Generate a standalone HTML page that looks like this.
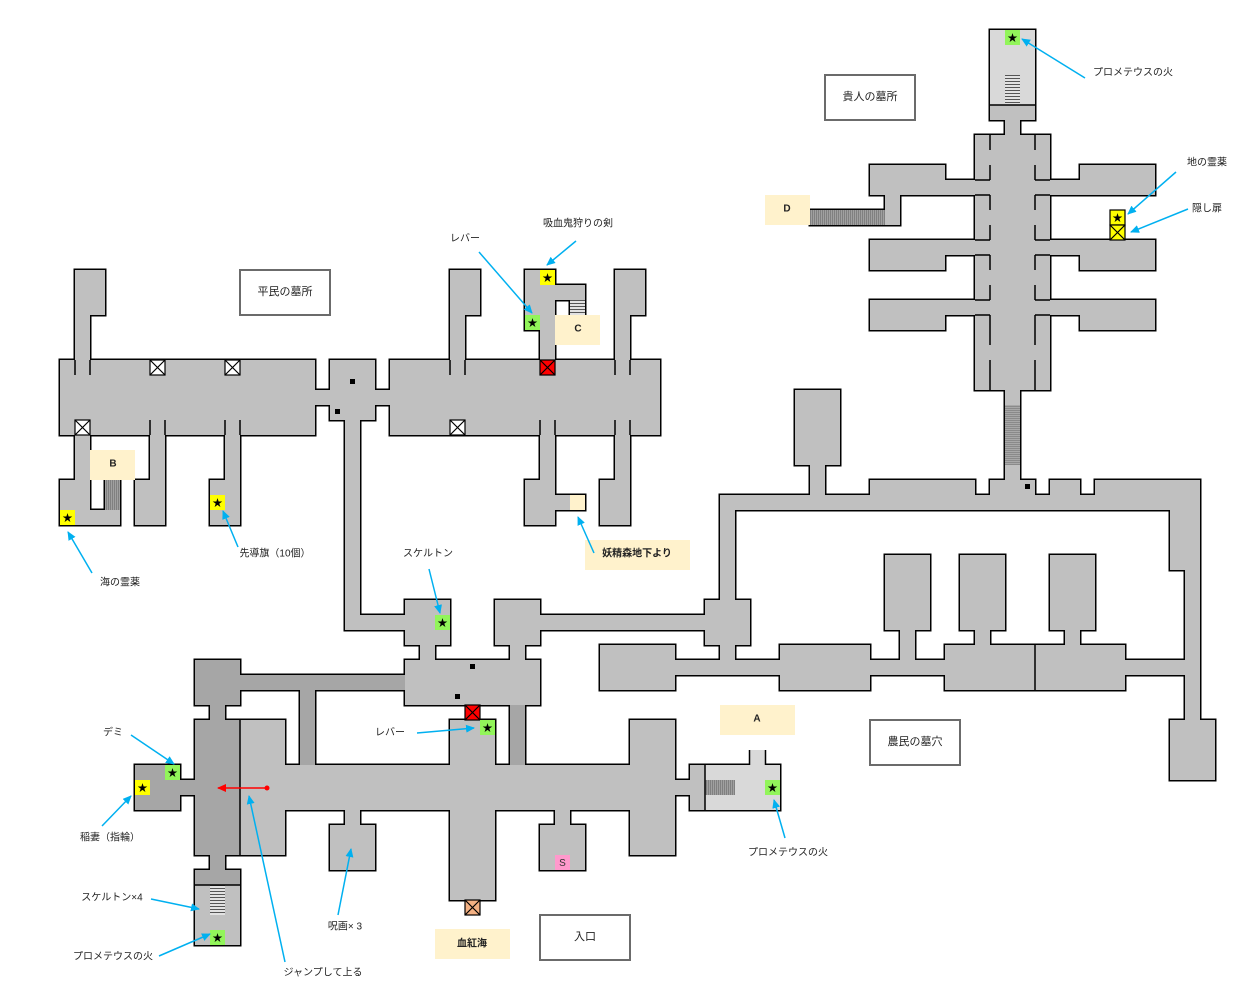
<!DOCTYPE html>
<html><head><meta charset="utf-8"><style>
html,body{margin:0;padding:0;background:#fff;}
svg{display:block;}
text{font-family:"Liberation Sans","Noto Sans CJK JP",sans-serif;fill:#222;}
</style></head><body>
<svg width="1260" height="1005" viewBox="0 0 1260 1005" xmlns="http://www.w3.org/2000/svg">
<defs>
<pattern id="hs" width="4" height="3" patternUnits="userSpaceOnUse"><rect width="4" height="3" fill="#e2e2e2"/><rect width="4" height="1" fill="#555"/></pattern>
<pattern id="hsd" width="4" height="2" patternUnits="userSpaceOnUse"><rect width="4" height="2" fill="#a8a8a8"/><rect width="4" height="1" fill="#8a8a8a"/></pattern>
<pattern id="vsd" width="2" height="4" patternUnits="userSpaceOnUse"><rect width="2" height="4" fill="#a0a0a0"/><rect width="1" height="4" fill="#808080"/></pattern>
<marker id="ah" markerWidth="9" markerHeight="8" refX="8" refY="4" orient="auto" markerUnits="userSpaceOnUse"><path d="M0,0 L9,4 L0,8 z" fill="#00b0f0"/></marker>
<marker id="ahr" markerWidth="9" markerHeight="8" refX="8" refY="4" orient="auto" markerUnits="userSpaceOnUse"><path d="M0,0 L9,4 L0,8 z" fill="#ff0000"/></marker>
<g id="M">
<!-- commoner tomb -->
<rect x="75" y="270" width="30" height="45" fill="#c0c0c0"/>
<rect x="75" y="315" width="15" height="45" fill="#c0c0c0"/>
<rect x="60" y="360" width="255" height="75" fill="#c0c0c0"/>
<rect x="75" y="435" width="15" height="45" fill="#c0c0c0"/>
<rect x="60" y="480" width="30" height="45" fill="#c0c0c0"/>
<rect x="60" y="510" width="60" height="15" fill="#c0c0c0"/>
<rect x="105" y="480" width="15" height="30" fill="url(#vsd)"/>
<rect x="150" y="435" width="15" height="45" fill="#c0c0c0"/>
<rect x="135" y="480" width="30" height="45" fill="#c0c0c0"/>
<rect x="225" y="435" width="15" height="45" fill="#c0c0c0"/>
<rect x="210" y="480" width="30" height="45" fill="#c0c0c0"/>
<rect x="315" y="390" width="15" height="15" fill="#c0c0c0"/>
<rect x="330" y="360" width="45" height="60" fill="#c0c0c0"/>
<rect x="375" y="390" width="15" height="15" fill="#c0c0c0"/>
<rect x="390" y="360" width="270" height="75" fill="#c0c0c0"/>
<rect x="450" y="270" width="30" height="45" fill="#c0c0c0"/>
<rect x="450" y="315" width="15" height="45" fill="#c0c0c0"/>
<rect x="525" y="270" width="30" height="60" fill="#c0c0c0"/>
<rect x="540" y="330" width="15" height="30" fill="#c0c0c0"/>
<rect x="555" y="285" width="30" height="15" fill="#c0c0c0"/>
<rect x="570" y="300" width="15" height="15" fill="url(#hs)"/>
<rect x="615" y="270" width="30" height="45" fill="#c0c0c0"/>
<rect x="615" y="315" width="15" height="45" fill="#c0c0c0"/>
<rect x="540" y="435" width="15" height="45" fill="#c0c0c0"/>
<rect x="525" y="480" width="30" height="45" fill="#c0c0c0"/>
<rect x="555" y="495" width="30" height="15" fill="#c0c0c0"/>
<rect x="615" y="435" width="15" height="45" fill="#c0c0c0"/>
<rect x="600" y="480" width="30" height="45" fill="#c0c0c0"/>
<rect x="345" y="420" width="15" height="210" fill="#c0c0c0"/>
<rect x="345" y="615" width="60" height="15" fill="#c0c0c0"/>
<!-- center -->
<rect x="405" y="600" width="45" height="45" fill="#c0c0c0"/>
<rect x="420" y="645" width="15" height="15" fill="#c0c0c0"/>
<rect x="495" y="600" width="45" height="45" fill="#c0c0c0"/>
<rect x="510" y="645" width="15" height="15" fill="#c0c0c0"/>
<rect x="540" y="615" width="165" height="15" fill="#c0c0c0"/>
<rect x="405" y="660" width="135" height="45" fill="#c0c0c0"/>
<rect x="450" y="720" width="45" height="45" fill="#c0c0c0"/>
<rect x="240" y="765" width="435" height="45" fill="#c0c0c0"/>
<rect x="240" y="720" width="45" height="135" fill="#c0c0c0"/>
<rect x="450" y="810" width="45" height="90" fill="#c0c0c0"/>
<rect x="630" y="720" width="45" height="135" fill="#c0c0c0"/>
<rect x="675" y="780" width="15" height="15" fill="#c0c0c0"/>
<rect x="690" y="765" width="15" height="45" fill="#c0c0c0"/>
<rect x="705" y="765" width="75" height="45" fill="#d9d9d9"/>
<rect x="345" y="810" width="15" height="15" fill="#c0c0c0"/>
<rect x="330" y="825" width="45" height="45" fill="#c0c0c0"/>
<rect x="555" y="810" width="15" height="15" fill="#c0c0c0"/>
<rect x="540" y="825" width="45" height="45" fill="#c0c0c0"/>
<!-- dark -->
<rect x="195" y="660" width="45" height="45" fill="#a6a6a6"/>
<rect x="240" y="675" width="165" height="15" fill="#a6a6a6"/>
<rect x="300" y="690" width="15" height="75" fill="#a6a6a6"/>
<rect x="210" y="705" width="15" height="15" fill="#a6a6a6"/>
<rect x="195" y="720" width="45" height="135" fill="#a6a6a6"/>
<rect x="135" y="765" width="45" height="45" fill="#a6a6a6"/>
<rect x="180" y="780" width="15" height="15" fill="#a6a6a6"/>
<rect x="210" y="855" width="15" height="15" fill="#a6a6a6"/>
<rect x="195" y="870" width="45" height="15" fill="#a6a6a6"/>
<rect x="195" y="885" width="45" height="60" fill="#c0c0c0"/>
<rect x="510" y="705" width="15" height="60" fill="#a6a6a6"/>
<!-- loop -->
<rect x="795" y="390" width="45" height="75" fill="#c0c0c0"/>
<rect x="810" y="465" width="15" height="30" fill="#c0c0c0"/>
<rect x="720" y="495" width="480" height="15" fill="#c0c0c0"/>
<rect x="870" y="480" width="105" height="15" fill="#c0c0c0"/>
<rect x="990" y="480" width="45" height="15" fill="#c0c0c0"/>
<rect x="1050" y="480" width="30" height="15" fill="#c0c0c0"/>
<rect x="1095" y="480" width="105" height="15" fill="#c0c0c0"/>
<rect x="720" y="510" width="15" height="90" fill="#c0c0c0"/>
<rect x="705" y="600" width="45" height="45" fill="#c0c0c0"/>
<rect x="720" y="645" width="15" height="15" fill="#c0c0c0"/>
<rect x="1170" y="510" width="30" height="60" fill="#c0c0c0"/>
<rect x="1185" y="570" width="15" height="150" fill="#c0c0c0"/>
<rect x="1170" y="720" width="45" height="60" fill="#c0c0c0"/>
<rect x="600" y="645" width="75" height="45" fill="#c0c0c0"/>
<rect x="675" y="660" width="510" height="15" fill="#c0c0c0"/>
<rect x="780" y="645" width="90" height="45" fill="#c0c0c0"/>
<rect x="885" y="555" width="45" height="75" fill="#c0c0c0"/>
<rect x="900" y="630" width="15" height="30" fill="#c0c0c0"/>
<rect x="945" y="645" width="180" height="45" fill="#c0c0c0"/>
<rect x="960" y="555" width="45" height="75" fill="#c0c0c0"/>
<rect x="975" y="630" width="15" height="15" fill="#c0c0c0"/>
<rect x="1050" y="555" width="45" height="75" fill="#c0c0c0"/>
<rect x="1065" y="630" width="15" height="15" fill="#c0c0c0"/>
<!-- noble tomb -->
<rect x="990" y="30" width="45" height="75" fill="#d9d9d9"/>
<rect x="990" y="105" width="45" height="15" fill="#c0c0c0"/>
<rect x="1005" y="120" width="15" height="15" fill="#c0c0c0"/>
<rect x="975" y="135" width="75" height="255" fill="#c0c0c0"/>
<rect x="870" y="165" width="75" height="30" fill="#c0c0c0"/>
<rect x="945" y="180" width="30" height="15" fill="#c0c0c0"/>
<rect x="885" y="195" width="15" height="30" fill="#c0c0c0"/>
<rect x="810" y="210" width="75" height="15" fill="url(#vsd)"/>
<rect x="870" y="240" width="75" height="30" fill="#c0c0c0"/>
<rect x="945" y="240" width="30" height="15" fill="#c0c0c0"/>
<rect x="870" y="300" width="75" height="30" fill="#c0c0c0"/>
<rect x="945" y="300" width="30" height="15" fill="#c0c0c0"/>
<rect x="1080" y="165" width="75" height="30" fill="#c0c0c0"/>
<rect x="1050" y="180" width="30" height="15" fill="#c0c0c0"/>
<rect x="1080" y="240" width="75" height="30" fill="#c0c0c0"/>
<rect x="1050" y="240" width="30" height="15" fill="#c0c0c0"/>
<rect x="1080" y="300" width="75" height="30" fill="#c0c0c0"/>
<rect x="1050" y="300" width="30" height="15" fill="#c0c0c0"/>
<rect x="1005" y="390" width="15" height="90" fill="#c0c0c0"/>
</g>
</defs>

<!-- stroke pass then fill pass -->
<use href="#M" stroke="#000" stroke-width="3"/>
<use href="#M"/>

<!-- room A stem -->
<rect x="750" y="750" width="15" height="16" fill="#d9d9d9"/>
<path d="M749.5 750V765M765.5 750V765" stroke="#000" stroke-width="1.5"/>

<!-- stairs overlays -->
<rect x="1005" y="75" width="15" height="30" fill="url(#hs)"/>
<rect x="1005" y="405" width="15" height="60" fill="url(#hsd)"/>
<rect x="210" y="885" width="15" height="30" fill="url(#hs)"/>
<rect x="705" y="780" width="30" height="15" fill="url(#vsd)"/>

<!-- internal walls -->
<g stroke="#000" stroke-width="1.5" fill="none">
<path d="M75 360V375M90 360V375M150 420V435M165 420V435M225 420V435M240 420V435"/>
<path d="M450 360V375M465 360V375M615 360V375M630 360V375M540 420V435M555 420V435M615 420V435M630 420V435"/>
<path d="M240 720V855M195 885H240M705 765V810M1035 645V690M990 105H1035"/>
<path d="M975 180H990M975 195H990M975 240H990M975 255H990M975 300H990M975 315H990"/>
<path d="M1035 180H1050M1035 195H1050M1035 240H1050M1035 255H1050M1035 300H1050M1035 315H1050"/>
<path d="M990 135V150M990 165V180M990 195V210M990 225V240M990 255V270M990 285V300M990 315V345M990 360V390"/>
<path d="M1035 135V150M1035 165V180M1035 195V210M1035 225V240M1035 255V270M1035 285V300M1035 315V345M1035 360V390"/>
</g>

<!-- X boxes -->
<g stroke="#000" stroke-width="1.2">
<rect x="150" y="360" width="15" height="15" fill="#fff"/><path d="M150 360L165 375M165 360L150 375"/>
<rect x="225" y="360" width="15" height="15" fill="#fff"/><path d="M225 360L240 375M240 360L225 375"/>
<rect x="75" y="420" width="15" height="15" fill="#fff"/><path d="M75 420L90 435M90 420L75 435"/>
<rect x="450" y="420" width="15" height="15" fill="#fff"/><path d="M450 420L465 435M465 420L450 435"/>
<rect x="540" y="360" width="15" height="15" fill="#ff0000"/><path d="M540 360L555 375M555 360L540 375"/>
<rect x="465" y="705" width="15" height="15" fill="#ff0000"/><path d="M465 705L480 720M480 705L465 720"/>
<rect x="465" y="900" width="15" height="15" fill="#f4b183"/><path d="M465 900L480 915M480 900L465 915"/>
<rect x="1110" y="210" width="15" height="15" fill="#ffff00"/>
<rect x="1110" y="225" width="15" height="15" fill="#ffff00"/><path d="M1110 225L1125 240M1125 225L1110 240"/>
</g>

<!-- star boxes -->
<g>
<rect x="60" y="510" width="15" height="15" fill="#ffff00"/>
<rect x="210" y="495" width="15" height="15" fill="#ffff00"/>
<rect x="540" y="270" width="15" height="15" fill="#ffff00"/>
<rect x="135" y="780" width="15" height="15" fill="#ffff00"/>
<rect x="525" y="315" width="15" height="15" fill="#92f55a"/>
<rect x="1005" y="30" width="15" height="15" fill="#92f55a"/>
<rect x="435" y="615" width="15" height="15" fill="#92f55a"/>
<rect x="480" y="720" width="15" height="15" fill="#92f55a"/>
<rect x="165" y="765" width="15" height="15" fill="#92f55a"/>
<rect x="210" y="930" width="15" height="15" fill="#92f55a"/>
<rect x="765" y="780" width="15" height="15" fill="#92f55a"/>
<rect x="570" y="495" width="15" height="15" fill="#fff2cc"/>
<rect x="555" y="855" width="15" height="15" fill="#ff99cc"/>
</g>
<g font-size="10" text-anchor="middle" style="fill:#000">
<text x="67.5" y="521.5" style="fill:#000">★</text>
<text x="217.5" y="506.5" style="fill:#000">★</text>
<text x="547.5" y="281.5" style="fill:#000">★</text>
<text x="142.5" y="791.5" style="fill:#000">★</text>
<text x="532.5" y="326.5" style="fill:#000">★</text>
<text x="1012.5" y="41.5" style="fill:#000">★</text>
<text x="442.5" y="626.5" style="fill:#000">★</text>
<text x="487.5" y="731.5" style="fill:#000">★</text>
<text x="172.5" y="776.5" style="fill:#000">★</text>
<text x="217.5" y="941.5" style="fill:#000">★</text>
<text x="772.5" y="791.5" style="fill:#000">★</text>
<text x="1117.5" y="221.5" style="fill:#000">★</text>
<text x="562.5" y="866" style="fill:#333">S</text>
</g>

<!-- black squares -->
<g fill="#000">
<rect x="350" y="379" width="5" height="5"/>
<rect x="335" y="409" width="5" height="5"/>
<rect x="470" y="664" width="5" height="5"/>
<rect x="455" y="694" width="5" height="5"/>
<rect x="1025" y="484" width="5" height="5"/>
</g>

<!-- cream label boxes -->
<g fill="#fff2cc">
<rect x="90" y="450" width="45" height="30"/>
<rect x="555" y="315" width="45" height="30"/>
<rect x="765" y="195" width="45" height="30"/>
<rect x="720" y="705" width="75" height="30"/>
<rect x="585" y="540" width="105" height="30"/>
<rect x="435" y="929" width="75" height="30"/>
</g>
<g font-size="10" font-weight="bold" text-anchor="middle" dominant-baseline="central">
<text x="113" y="464">B</text>
<text x="578" y="329">C</text>
<text x="787" y="209">D</text>
<text x="757" y="719">A</text>
<text x="637" y="554">妖精森地下より</text>
<text x="472" y="944">血紅海</text>
</g>

<!-- boxed titles -->
<g fill="#fff" stroke="#6b6b6b" stroke-width="2">
<rect x="240" y="270" width="90" height="45"/>
<rect x="825" y="75" width="90" height="45"/>
<rect x="870" y="720" width="90" height="45"/>
<rect x="540" y="915" width="90" height="45"/>
</g>
<g font-size="11" text-anchor="middle" dominant-baseline="central">
<text x="285" y="292">平民の墓所</text>
<text x="870" y="97">貴人の墓所</text>
<text x="915" y="742">農民の墓穴</text>
<text x="585" y="937">入口</text>
</g>

<!-- blue arrows -->
<g stroke="#00b0f0" stroke-width="1.5" fill="none" marker-end="url(#ah)">
<line x1="92" y1="573" x2="68" y2="532"/>
<line x1="238" y1="547" x2="223" y2="511"/>
<line x1="479" y1="252" x2="532" y2="313"/>
<line x1="576" y1="241" x2="547" y2="265"/>
<line x1="594" y1="553" x2="578" y2="517"/>
<line x1="1085" y1="78" x2="1022" y2="39"/>
<line x1="1176" y1="172" x2="1128" y2="214"/>
<line x1="1188" y1="209" x2="1131" y2="232"/>
<line x1="429" y1="569" x2="440" y2="613"/>
<line x1="131" y1="735" x2="174" y2="764"/>
<line x1="102" y1="826" x2="131" y2="796"/>
<line x1="151" y1="899" x2="199" y2="909"/>
<line x1="159" y1="956" x2="210" y2="934"/>
<line x1="285" y1="962" x2="249" y2="796"/>
<line x1="338" y1="915" x2="351" y2="849"/>
<line x1="417" y1="733" x2="474" y2="728"/>
<line x1="785" y1="838" x2="774" y2="800"/>
</g>

<!-- red arrow -->
<line x1="267" y1="788" x2="218" y2="788" stroke="#ff0000" stroke-width="1.5" marker-end="url(#ahr)"/>
<circle cx="267" cy="788" r="2.5" fill="#ff0000"/>

<!-- labels -->
<g font-size="10" text-anchor="middle" dominant-baseline="central">
<text x="120" y="583">海の霊薬</text>
<text x="275" y="554">先導旗（10個）</text>
<text x="465" y="239">レバー</text>
<text x="578" y="224">吸血鬼狩りの剣</text>
<text x="428" y="554">スケルトン</text>
<text x="1133" y="73">プロメテウスの火</text>
<text x="1207" y="163">地の霊薬</text>
<text x="1207" y="209">隠し扉</text>
<text x="113" y="733">デミ</text>
<text x="110" y="838">稲妻（指輪）</text>
<text x="112" y="898">スケルトン×4</text>
<text x="113" y="957">プロメテウスの火</text>
<text x="323" y="973">ジャンプして上る</text>
<text x="345" y="927">呪画× 3</text>
<text x="390" y="733">レバー</text>
<text x="788" y="853">プロメテウスの火</text>
</g>
</svg>
</body></html>
